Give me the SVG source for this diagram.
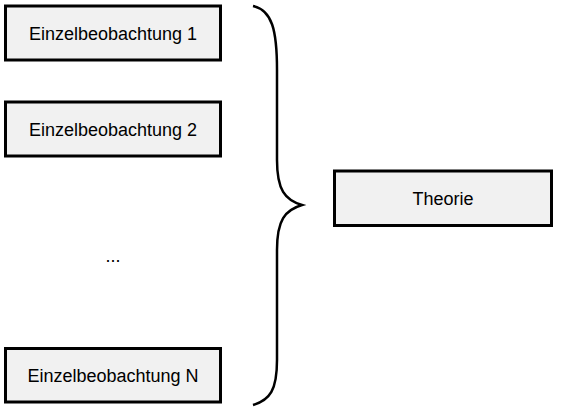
<svg xmlns="http://www.w3.org/2000/svg" width="561" height="414" viewBox="0 0 561 414">
<style>
.box{fill:#f1f1f1;stroke:#000;stroke-width:3}
.lbl{font-family:"Liberation Sans",Arial,sans-serif;font-size:18px;fill:#000;text-anchor:middle}
.brace{fill:none;stroke:#000;stroke-width:2.5}
</style>
<rect width="561" height="414" fill="#fff"/>
<g id="n1"><rect class="box" x="5.5" y="6" width="215" height="54"/><text class="lbl" x="113" y="40">Einzelbeobachtung 1</text></g>
<g id="n2"><rect class="box" x="5.5" y="102" width="215" height="54"/><text class="lbl" x="113" y="136">Einzelbeobachtung 2</text></g>
<g id="dots"><text class="lbl" x="113" y="262">...</text></g>
<g id="nN"><rect class="box" x="5.5" y="348.5" width="215" height="53.5"/><text class="lbl" x="113" y="382">Einzelbeobachtung N</text></g>
<g id="theorie"><rect class="box" x="334.5" y="171" width="217" height="54.5"/><text class="lbl" x="443" y="205">Theorie</text></g>
<g id="connectors">
<path class="brace" d="M253,6 C272,10 277,30 277,70 L277,160 C277,190 285,200 302,205 C285,210 277,220 277,250 L277,360 C277,390 270,400 253,405"/>
</g>
</svg>
